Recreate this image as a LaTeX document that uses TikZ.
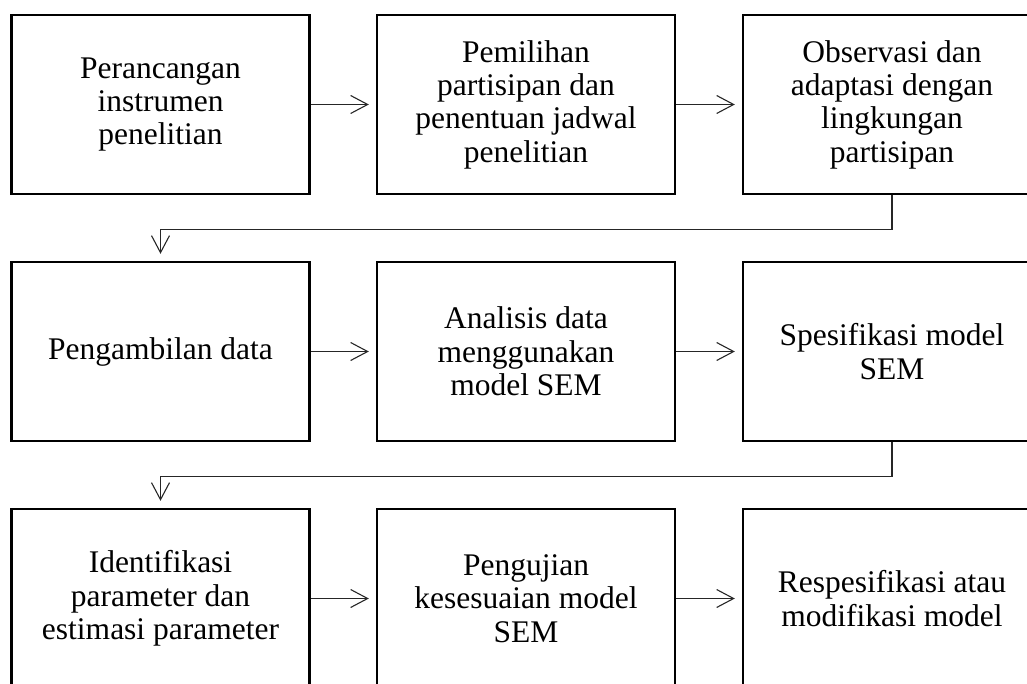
\documentclass[tikz,border=0pt]{standalone}
\usepackage{fontspec}
\setmainfont{Liberation Serif}
\usetikzlibrary{arrows.meta}
\begin{document}
\begin{tikzpicture}[x=1pt,y=-1pt,
  stepbox/.style={draw=black,line width=2.4pt,minimum width=298pt,minimum height=179pt,
    inner sep=0pt,align=center,font=\fontsize{31.5}{33.3}\selectfont},
  conn/.style={draw=black!85,line width=1.1pt,shorten >=7pt,
    -{Straight Barb[length=17pt,width=18pt,line width=1.1pt]}}]
\useasboundingbox (0,0) rectangle (1027,684);
\clip (0,0) rectangle (1027,684);
% first row
\node[stepbox] (a) at (160.5,104.5) {Perancangan\\instrumen\\penelitian};
\node[stepbox] (b) at (526,104.5) {Pemilihan\\partisipan dan\\penentuan jadwal\\penelitian};
\node[stepbox] (c) at (892,104.5) {Observasi dan\\adaptasi dengan\\lingkungan\\partisipan};
% second row
\node[stepbox] (d) at (160.5,351.5) {Pengambilan data};
\node[stepbox] (e) at (526,351.5) {Analisis data\\menggunakan\\model SEM};
\node[stepbox] (f) at (892,351.5) {Spesifikasi model\\SEM};
% third row
\node[stepbox] (g) at (160.5,598.5) {Identifikasi\\parameter dan\\estimasi parameter};
\node[stepbox] (h) at (526,598.5) {Pengujian\\kesesuaian model\\SEM};
\node[stepbox] (i) at (892,598.5) {Respesifikasi atau\\modifikasi model};
% connectors
\draw[conn] (a) -- (b);
\draw[conn] (b) -- (c);
\draw[conn] (c.south) -- ++(0,34) -| (d.north);
\draw[conn] (d) -- (e);
\draw[conn] (e) -- (f);
\draw[conn] (f.south) -- ++(0,34) -| (g.north);
\draw[conn] (g) -- (h);
\draw[conn] (h) -- (i);
\end{tikzpicture}
\end{document}
